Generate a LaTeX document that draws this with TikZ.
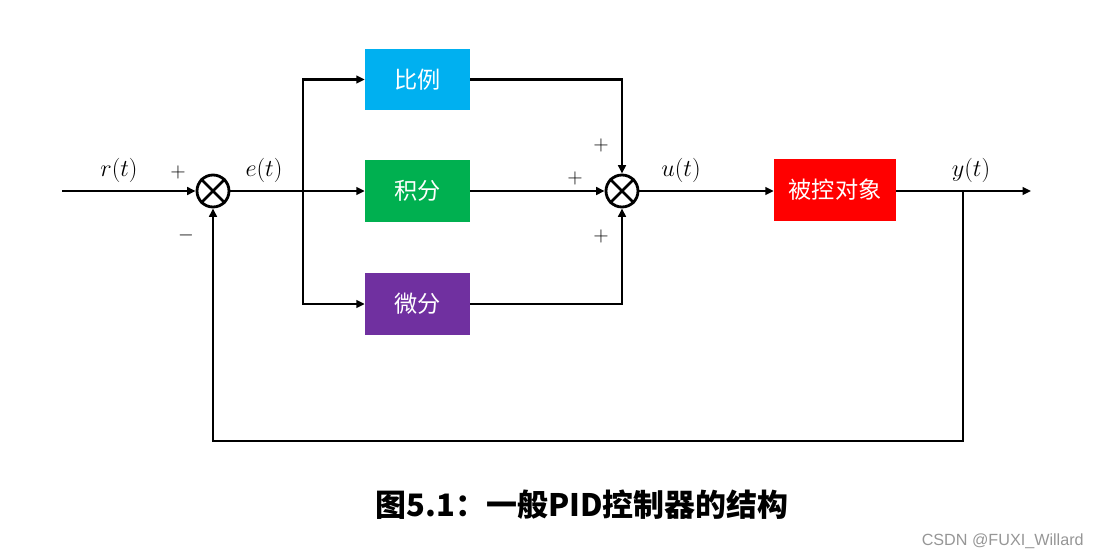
\documentclass[tikz,border=0pt]{standalone}
\usepackage{fontspec}
\newfontfamily\cjk{Noto Sans CJK SC}
\newfontfamily\wmfont{Liberation Sans}
\usetikzlibrary{arrows.meta}
\definecolor{pblue}{RGB}{0,176,240}
\definecolor{igreen}{RGB}{0,176,80}
\definecolor{dpurple}{RGB}{112,48,160}
\definecolor{plantred}{RGB}{255,0,0}
\definecolor{wmgray}{RGB}{150,150,150}
\begin{document}
\begin{tikzpicture}[x=0.025cm,y=-0.025cm,
  wire/.style={line width=1.5pt},
  arr/.style={wire,-{Triangle[length=6pt,width=5.5pt]}},
  sumc/.style={circle,draw,line width=2pt,minimum size=0.8cm,inner sep=0pt},
  block/.style={minimum width=2.625cm,minimum height=1.525cm,inner sep=0pt,text=white,font=\cjk\fontsize{16.5}{18}\selectfont},
  lab/.style={font=\fontsize{17}{19}\selectfont,inner sep=0pt},
  sgn/.style={font=\fontsize{14}{16}\selectfont,inner sep=0pt}]
\useasboundingbox (0,0) rectangle (1098,559);
% summing junctions
\node[sumc] (s1) at (213,191) {};
\draw[line width=2pt] (s1.45) -- (s1.225) (s1.135) -- (s1.315);
\node[sumc] (s2) at (622,191) {};
\draw[line width=2pt] (s2.45) -- (s2.225) (s2.135) -- (s2.315);
% blocks
\node[block,fill=pblue] (P) at (417.5,79.5) {比例};
\node[block,fill=igreen] (I) at (417.5,191) {积分};
\node[block,fill=dpurple] (D) at (417.5,304) {微分};
\node[block,fill=plantred,minimum width=3.05cm] (G) at (835,190) {被控对象};
% coordinates
\coordinate (in) at (62,191);
\coordinate (br) at (303,191);
\coordinate (fb) at (963,191);
\coordinate (fbc) at (963,441);
\coordinate (out) at (1031,191);
% connectors
\draw[arr] (in) -- (s1);
\draw[arr] (s1) -- (I);
\draw[arr] (br) |- (P.west);
\draw[arr] (br) |- (D.west);
\draw[arr] (P.east) -| (s2.north);
\draw[arr] (I) -- (s2);
\draw[arr] (D.east) -| (s2.south);
\draw[arr] (s2) -- (G.west |- s2);
\draw[arr] (G.east |- out) -- (out);
\draw[arr] (fb) -- (fbc) -| (s1.south);
% labels
\node[lab] (lr) at (119,170) {$r(t)$};
\node[sgn] (p1) at (178,172) {$+$};
\node[sgn] (m1) at (186,235) {$-$};
\node[lab] (le) at (264,170) {$e(t)$};
\node[sgn] (p2) at (601,145) {$+$};
\node[sgn] (p3) at (575,178) {$+$};
\node[sgn] (p4) at (601,236) {$+$};
\node[lab] (lu) at (681,170) {$u(t)$};
\node[lab] (ly) at (971,170) {$y(t)$};
% caption
\node (cap) at (582,505) {\cjk\bfseries\fontsize{22}{25}\selectfont 图5.1：一般PID控制器的结构};
\node[anchor=east,text=wmgray,inner sep=0pt] (wm) at (1084,541) {\wmfont\fontsize{11.5}{13}\selectfont CSDN @FUXI\_Willard};
\end{tikzpicture}
\end{document}
